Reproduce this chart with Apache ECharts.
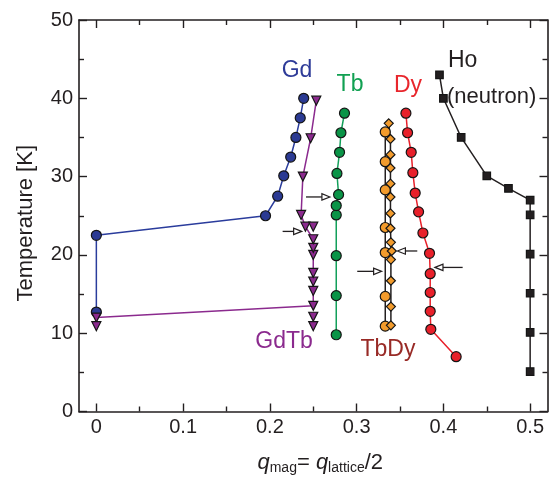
<!DOCTYPE html>
<html><head><meta charset="utf-8">
<script src="https://cdn.jsdelivr.net/npm/echarts@6/dist/echarts.min.js"></script>
<style>html,body{margin:0;padding:0;background:#fff}#c{width:553px;height:482px}</style>
</head><body><div id="c"></div>
<script>
// ---- tick values ----
const xMajorTicks = [0, 0.1, 0.2, 0.3, 0.4, 0.5];
const xMinorTicks = [0.05, 0.15, 0.25, 0.35, 0.45];
// ---- series data: [q, T] ----
const gd = [[0,12.7],[0,22.5],[0.195,25.0],[0.209,27.5],[0.216,30.1],[0.224,32.5],[0.230,35.0],[0.235,37.5],[0.239,40.0]];
const gdTbLine = [[0,12.0],[0.25,13.5],[0.25,15.4],[0.25,16.6],[0.25,17.7],[0.25,20.0],[0.25,20.9],[0.25,22.0],[0.241,23.6],[0.236,25.1],[0.238,30.0],[0.247,34.9],[0.2535,39.7]];
const gdTbExtra = [[0,10.9],[0.25,23.6],[0.25,12.1],[0.25,10.9]];
const tb = [[0.2765,9.8],[0.2765,14.8],[0.2765,19.9],[0.2765,25.1],[0.2765,26.3],[0.2792,27.7],[0.2773,30.4],[0.2803,33.1],[0.2819,35.6],[0.286,38.1]];
const tbDyCircles = [[0.333,10.9],[0.333,14.7],[0.333,20.3],[0.333,23.5],[0.333,28.3],[0.333,31.9],[0.333,35.7]];
const tbDyDiamonds = [[0.3395,11.0],[0.3395,13.4],[0.3395,16.7],[0.3395,19.4],[0.3405,20.5],[0.3395,21.6],[0.339,23.4],[0.339,25.3],[0.339,27.4],[0.339,29.1],[0.339,31.1],[0.339,32.8],[0.339,34.8],[0.337,36.8]];
const dy = [[0.4147,7.0],[0.3855,10.5],[0.3848,12.8],[0.3848,15.2],[0.3848,17.6],[0.384,20.2],[0.3764,22.8],[0.3714,25.5],[0.3675,27.9],[0.3648,30.5],[0.3629,33.1],[0.3587,35.6],[0.3568,38.1]];
const ho = [[0.3955,43],[0.4,40],[0.4205,35],[0.45,30.1],[0.475,28.5],[0.5,27],[0.5,25.1],[0.5,20.1],[0.5,15.1],[0.5,10.1],[0.5,5.1]];
// arrows: [qTail, qHead, T]
const arrows = [[0.2147,0.2366,23.0],[0.2416,0.2692,27.4],[0.3699,0.3470,20.5],[0.3007,0.3288,17.9],[0.4222,0.3903,18.4]];
// labels
const labelTexts = ['Gd','Tb','Dy','Ho','(neutron)','GdTb','TbDy'];

const FONT = '"Liberation Sans", Arial, Helvetica, sans-serif';
const AX = '#231f20';
const chart = echarts.init(document.getElementById('c'), null, {renderer:'canvas'});

const gridRect = {left:79, right:5.5, top:20, bottom:70.5};
function xAx(pos, gridIndex, ticks, len, labels, line){
  return {
    type:'value', gridIndex, position:pos, min:-0.02, max:0.52,
    axisLine:{show:line, onZero:false, lineStyle:{color:AX, width:1.6}},
    axisTick:{show:true, inside:true, length:len, customValues:ticks, lineStyle:{color:AX, width:1.4}},
    axisLabel:{show:labels, customValues:ticks, margin:6, fontSize:20, color:AX, fontFamily:FONT},
    splitLine:{show:false},
    name: (labels ? '{q|q}{s|mag}{n|= }{q|q}{s|lattice}{n|/2}' : ''),
    nameLocation:'middle', nameGap:38,
    nameTextStyle:{
      padding:[0,0,0,14],
      rich:{
        q:{fontStyle:'italic', fontSize:22, fontFamily:FONT, color:AX, lineHeight:26},
        s:{fontSize:14, fontFamily:FONT, color:AX, lineHeight:14, verticalAlign:'bottom'},
        n:{fontSize:22, fontFamily:FONT, color:AX, lineHeight:26}
      }
    }
  };
}
function yAx(pos, gridIndex, labels, show){
  return {
    type:'value', gridIndex, position:pos, min:0, max:50, interval:10, show:show,
    axisLine:{show:true, onZero:false, lineStyle:{color:AX, width:1.6}},
    axisTick:{show:true, inside:true, length:8, lineStyle:{color:AX, width:1.4}},
    minorTick:{show:true, splitNumber:2, length:5, lineStyle:{color:AX, width:1.4}},
    axisLabel:{show:labels, margin:6, fontSize:20, color:AX, fontFamily:FONT},
    splitLine:{show:false},
    name: labels ? 'Temperature [K]' : '',
    nameLocation:'middle', nameGap:42, nameRotate:90,
    nameTextStyle:{fontSize:22, color:AX, fontFamily:FONT, padding:[0,15,0,0]}
  };
}

const mkBorder = {borderColor:'#151515', borderWidth:1.2, opacity:1};
function lineSeries(name, data, color, fill, symbol, size){
  return {
    name, type:'line', data, xAxisIndex:0, yAxisIndex:0,
    symbol, symbolSize:size, showSymbol:true,
    lineStyle:{color, width:1.5},
    itemStyle:Object.assign({color:fill}, mkBorder),
    animation:false, z:3
  };
}

const option = {
  animation:false,
  grid:[Object.assign({}, gridRect), Object.assign({}, gridRect)],
  xAxis:[
    xAx('bottom',0,xMajorTicks,8,true,true),
    xAx('top',0,xMajorTicks,8,false,true),
    xAx('bottom',1,xMinorTicks,5,false,false),
    xAx('top',1,xMinorTicks,5,false,false)
  ],
  yAxis:[
    yAx('left',0,true,true),
    yAx('right',0,false,true),
    yAx('left',1,false,false)
  ],
  graphic:[
    {type:'text', x:297, y:71, style:{text:labelTexts[0], font:'23px '+FONT, fill:'#2e3b98', align:'center', verticalAlign:'middle', textAlign:'center', textVerticalAlign:'middle'}},
    {type:'text', x:350, y:85, style:{text:labelTexts[1], font:'23px '+FONT, fill:'#11a052', align:'center', verticalAlign:'middle', textAlign:'center', textVerticalAlign:'middle'}},
    {type:'text', x:408, y:86, style:{text:labelTexts[2], font:'23px '+FONT, fill:'#e8262c', align:'center', verticalAlign:'middle', textAlign:'center', textVerticalAlign:'middle'}},
    {type:'text', x:448, y:61, style:{text:labelTexts[3], font:'23px '+FONT, fill:AX, align:'left', verticalAlign:'middle', textAlign:'left', textVerticalAlign:'middle'}},
    {type:'text', x:447, y:97, style:{text:labelTexts[4], font:'22px '+FONT, fill:AX, align:'left', verticalAlign:'middle', textAlign:'left', textVerticalAlign:'middle'}},
    {type:'text', x:284, y:342, style:{text:labelTexts[5], font:'23px '+FONT, fill:'#8b2a8e', align:'center', verticalAlign:'middle', textAlign:'center', textVerticalAlign:'middle'}},
    {type:'text', x:388, y:350, style:{text:labelTexts[6], font:'23px '+FONT, fill:'#982a26', align:'center', verticalAlign:'middle', textAlign:'center', textVerticalAlign:'middle'}}
  ],
  series:[
    lineSeries('Gd', gd, '#2a3c9c', '#2b3a93', 'circle', 10),
    lineSeries('GdTb', gdTbLine, '#8b2a8e', '#8b2a8e', 'triangle', 9),
    {name:'GdTb2', type:'scatter', data:gdTbExtra, symbol:'triangle', symbolSize:9, symbolRotate:180,
     itemStyle:Object.assign({color:'#8b2a8e'}, mkBorder), z:3},
    lineSeries('Tb', tb, '#13a05a', '#0a9447', 'circle', 10),
    lineSeries('TbDyA', tbDyCircles, AX, '#f29b2c', 'circle', 10),
    lineSeries('TbDyB', tbDyDiamonds, AX, '#f29b2c', 'diamond', 9),
    lineSeries('Dy', dy, '#e8202a', '#e8202a', 'circle', 10),
    lineSeries('Ho', ho, AX, AX, 'rect', 7.5),
    {
      type:'custom', xAxisIndex:0, yAxisIndex:0, data:arrows, z:5,
      encode:{x:[0,1], y:2},
      renderItem:function(params, api){
        const p1 = api.coord([api.value(0), api.value(2)]);
        const p2 = api.coord([api.value(1), api.value(2)]);
        const dir = Math.sign(p2[0]-p1[0]);
        const L = 8, W = 3.2;
        const base = p2[0] - dir*L;
        return {type:'group', children:[
          {type:'line', shape:{x1:p1[0], y1:p1[1], x2:base, y2:p2[1]}, style:{stroke:AX, lineWidth:1.3}},
          {type:'polygon', shape:{points:[[p2[0],p2[1]],[base,p2[1]-W],[base,p2[1]+W]]}, style:{fill:'#fff', stroke:AX, lineWidth:1.2}}
        ]};
      }
    }
  ]
};
// flip triangles downward for the GdTb line
option.series[1].symbolRotate = 180;
chart.setOption(option);
</script>
</body></html>
